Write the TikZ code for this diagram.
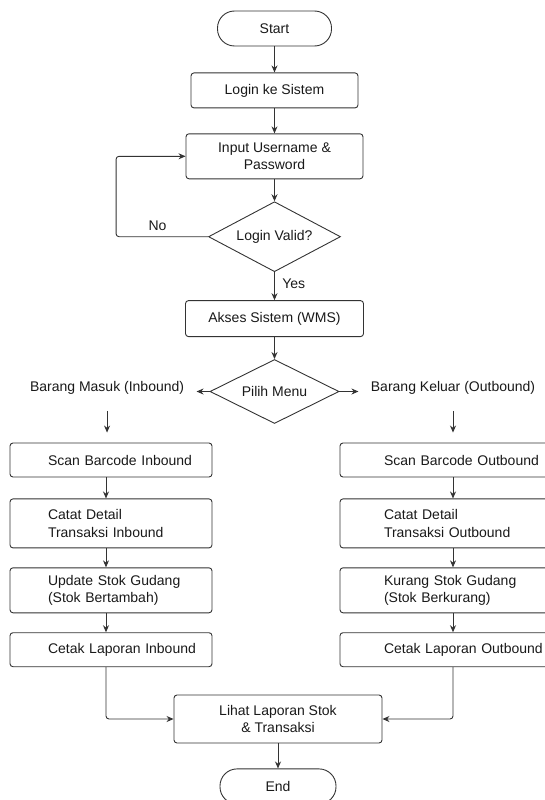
\documentclass[tikz,border=0pt]{standalone}
\usepackage{fontspec}
\setmainfont{Liberation Sans}
\usetikzlibrary{arrows.meta,positioning,shapes.geometric}

\begin{document}
\begin{tikzpicture}[x=1pt, y=-1pt, line width=0.9pt, draw=black!80,
    >={Stealth[length=7pt,width=6pt]},
    every node/.style={font=\fontsize{14}{17.5}\selectfont, text=black!90},
    term/.style={draw, rounded corners=17pt, minimum width=114pt, minimum height=35pt, inner sep=2pt},
    process/.style={draw, rounded corners=3pt, align=center, minimum height=35pt, inner sep=2pt},
    decision/.style={draw, diamond, aspect=1.9, inner sep=0pt},
    inbox/.style={draw, rounded corners=3pt, minimum height=34pt, inner xsep=10pt, inner ysep=2pt,
        text width=182pt, align=left, execute at begin node={\leftskip=28pt}},
    outbox/.style={inbox, text width=206pt, execute at begin node={\leftskip=34pt}},
    choice/.style={inner sep=0pt}]
            \useasboundingbox (0,0) rectangle (545,800);

            % Main column
            \node[term] (start) at (274.5,28.5) {Start};
            \node[process, minimum width=167pt, below=26pt of start] (login) {Login ke Sistem};
            \node[process, minimum width=177pt, minimum height=45pt, below=25pt of login] (input) {Input Username \&\\Password};
            \node[decision, minimum width=132pt, minimum height=70pt, below=22pt of input] (valid) {Login Valid?};
            \node[process, minimum width=178pt, minimum height=36pt, below=28pt of valid] (akses) {Akses Sistem (WMS)};
            \node[decision, minimum width=129pt, minimum height=64pt, below=22pt of akses] (menu) {Pilih Menu};

            % Menu choices
            \node[choice, anchor=base east] (masuk) at ([xshift=-25pt]menu.west) {Barang Masuk (Inbound)};
            \node[choice, anchor=base west] (keluar) at ([xshift=31pt]menu.east) {Barang Keluar (Outbound)};

            % Inbound
            \node[inbox] (scanin) at (111,460) {Scan Barcode Inbound};
            \node[inbox, minimum height=49pt, below=21pt of scanin] (catatin) {Catat Detail\\Transaksi Inbound};
            \node[inbox, minimum height=45pt, below=19pt of catatin] (updatein) {Update Stok Gudang\\(Stok Bertambah)};
            \node[inbox, below=19pt of updatein] (cetakin) {Cetak Laporan Inbound};

            % Outbound
            \node[outbox] (scanout) at (453,460) {Scan Barcode Outbound};
            \node[outbox, minimum height=49pt, below=21pt of scanout] (catatout) {Catat Detail\\Transaksi Outbound};
            \node[outbox, minimum height=45pt, below=19pt of catatout] (kurangout) {Kurang Stok Gudang\\(Stok Berkurang)};
            \node[outbox, below=19pt of kurangout] (cetakout) {Cetak Laporan Outbound};

            % Report and end
            \node[process, minimum width=208pt, minimum height=48pt] (lihat) at (278,719) {Lihat Laporan Stok\\\& Transaksi};
            \node[term, minimum width=116pt, below=25pt of lihat] (end) {End};

            % Lines
            \draw[->] (start) -- (login);
            \draw[->] (login) -- (input);
            \draw[->] (input) -- (valid);
            \draw[->] (valid) -- node[right, xshift=4pt, yshift=2pt] {Yes} (akses);
            \draw[->, rounded corners=3pt] (valid.west) -- node[above, pos=0.55, yshift=2pt] {No} ++(-92,0) |- (input.west);
            \draw[->] (akses) -- (menu);
            \draw[->, shorten >=12pt] (menu.west) -- (menu.west -| masuk.east);
            \draw[->, shorten >=12pt] (menu.east) -- (menu.east -| keluar.west);
            \draw[->, shorten <=16pt, shorten >=10pt] (masuk.south) -- (masuk.south |- scanin.north);
            \draw[->, shorten <=16pt, shorten >=10pt] (keluar.south) -- (keluar.south |- scanout.north);
            \foreach \a/\b in {scanin/catatin, catatin/updatein, updatein/cetakin}
                \draw[->] ([xshift=-5pt]\a.south) -- ([xshift=-5pt]\b.north);
            \foreach \a/\b in {scanout/catatout, catatout/kurangout, kurangout/cetakout}
                \draw[->] (\a) -- (\b);
            \draw[->, rounded corners=3pt] ([xshift=-5pt]cetakin.south) |- (lihat.west);
            \draw[->, rounded corners=3pt] (cetakout.south) |- (lihat.east);
            \draw[->] (lihat) -- (end);

        \end{tikzpicture}
\end{document}
